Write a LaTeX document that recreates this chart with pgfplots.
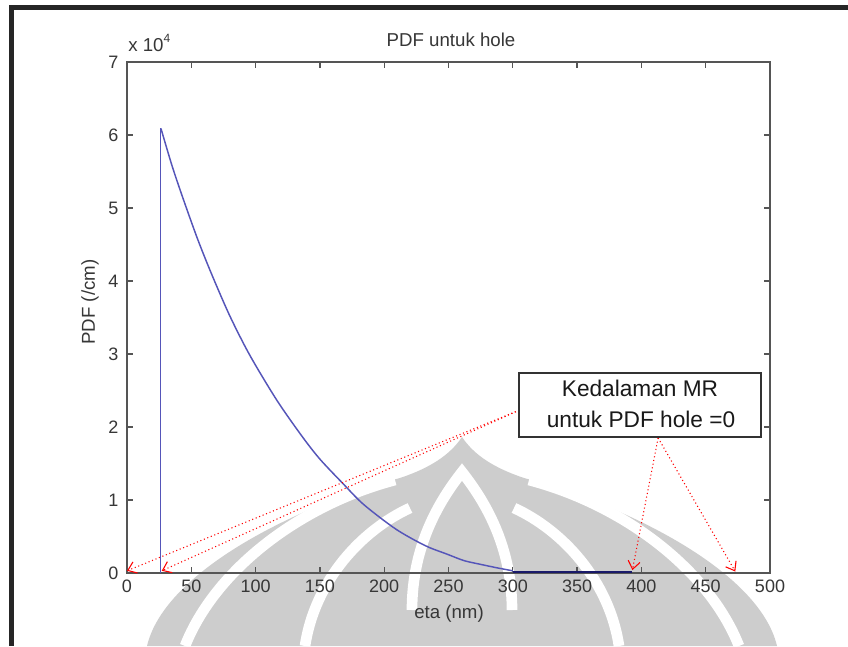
\documentclass[border=0pt]{standalone}
\usepackage{fontspec}
\setmainfont{Liberation Sans}
\usepackage{pgfplots}
\pgfplotsset{compat=1.18}
\usetikzlibrary{arrows.meta}

\definecolor{axgray}{RGB}{85,85,85}
\definecolor{txtgray}{RGB}{55,55,55}
\definecolor{mlblue}{RGB}{85,85,185}
\definecolor{mlnavy}{RGB}{25,25,105}
\definecolor{wmgray}{RGB}{205,205,205}

\begin{document}
\begin{tikzpicture}
\useasboundingbox (0,0) rectangle (636pt,484.5pt);
\fill[white] (0,0) rectangle (636pt,484.5pt);

% frame and watermark, in pixel units of the reference (y down)
\begin{scope}[x=0.75pt,y=-0.75pt,shift={(0pt,484.5pt)}]
  \fill[black!85] (9,5) rectangle (848,10);
  \fill[black!85] (9,5) rectangle (14,646);
  % watermark logo (rough)
  \fill[wmgray] (147,646) .. controls (165,570) and (300,505) .. (400,478)
    .. controls (430,468) and (450,455) .. (462,437)
    .. controls (474,455) and (494,468) .. (524,478)
    .. controls (624,505) and (759,570) .. (777,646) -- cycle;
  \begin{scope}[white,line width=8pt]
    \draw (185,646) .. controls (215,570) and (300,505) .. (395,480);
    \draw (739,646) .. controls (709,570) and (624,505) .. (529,480);
    \draw (305,646) .. controls (315,580) and (362,530) .. (410,508);
    \draw (619,646) .. controls (609,580) and (562,530) .. (514,508);
    \draw (412,610) .. controls (412,545) and (440,500) .. (462,472)
      .. controls (484,500) and (512,545) .. (512,610);
  \end{scope}
\end{scope}

\begin{axis}[
    at={(95.25pt,54.75pt)}, anchor=south west,
    scale only axis,
    width=482.25pt, height=383.25pt,
    xmin=0, xmax=500, ymin=0, ymax=7,
    xtick={0,50,...,500},
    ytick={0,1,...,7},
    axis line style={axgray, line width=1.2pt},
    tick style={axgray, line width=1pt},
    major tick length=4.5pt,
    tick align=inside,
    font=\fontsize{13.5}{15}\selectfont,
    /pgf/number format/assume math mode=true,
    ticklabel style={txtgray},
    yticklabel style={xshift=-3pt},
    xticklabel style={yshift=-2pt},
    clip=false,
    axis background/.style={fill=none},
]
% vertical jump at the start of the distribution
\addplot[mlblue, line width=0.8pt] coordinates {(26.4,0) (26.4,6.09)};
% PDF curve (units of 1e4 /cm)
\addplot[mlblue, line width=1.1pt, smooth, tension=0.5] coordinates {
  (26.4,6.09) (35,5.58) (43.8,5.12) (55,4.57) (65.9,4.09) (80,3.52)
  (95.6,2.98) (116.4,2.37) (135.8,1.88) (150,1.56) (168.2,1.22)
  (182,0.97) (196.7,0.76) (210,0.59) (222.6,0.46) (235,0.35)
  (248.6,0.26) (262,0.17) (274.5,0.12) (288,0.07) (300,0.03)
};
\addplot[mlnavy, line width=2pt] coordinates {(300,0.015) (393,0.015)};

% annotation arrows
\begin{scope}[red, dotted, line width=0.8pt]
  \draw[-{Straight Barb[length=6pt,width=9pt,line width=0.8pt]}] (axis cs:305,2.23) -- (axis cs:0,0.03);
  \draw[-{Straight Barb[length=6pt,width=9pt,line width=0.8pt]}] (axis cs:305,2.23) -- (axis cs:27,0.03);
  \draw[-{Straight Barb[length=6pt,width=9pt,line width=0.8pt]}] (axis cs:413,1.85) -- (axis cs:393,0.04);
  \draw[-{Straight Barb[length=6pt,width=9pt,line width=0.8pt]}] (axis cs:413,1.85) -- (axis cs:473,0.02);
\end{scope}
\end{axis}

\begin{scope}[x=0.75pt,y=-0.75pt,shift={(0pt,484.5pt)}]
  % title, labels, exponent
  \node[txtgray, font=\fontsize{14}{16}\selectfont] at (451,40) {PDF untuk hole};
  \node[txtgray, font=\fontsize{14}{16}\selectfont, anchor=base west, inner sep=0pt] at (128,52) {x 10\raisebox{7pt}{\fontsize{9}{10}\selectfont 4}};
  \node[txtgray, font=\fontsize{14}{16}\selectfont] at (449,614) {eta (nm)};
  \node[txtgray, font=\fontsize{14}{16}\selectfont, rotate=90] at (90,302) {PDF (/cm)};
  % text box
  \draw[fill=white, draw=black!80, line width=1.1pt] (519,373) rectangle (761,437);
  \node[black!90, font=\fontsize{17}{19}\selectfont, anchor=base] at (640,397) {Kedalaman MR};
  \node[black!90, font=\fontsize{17}{19}\selectfont, anchor=base] at (641,427) {untuk PDF hole =0};
\end{scope}
\end{tikzpicture}
\end{document}
